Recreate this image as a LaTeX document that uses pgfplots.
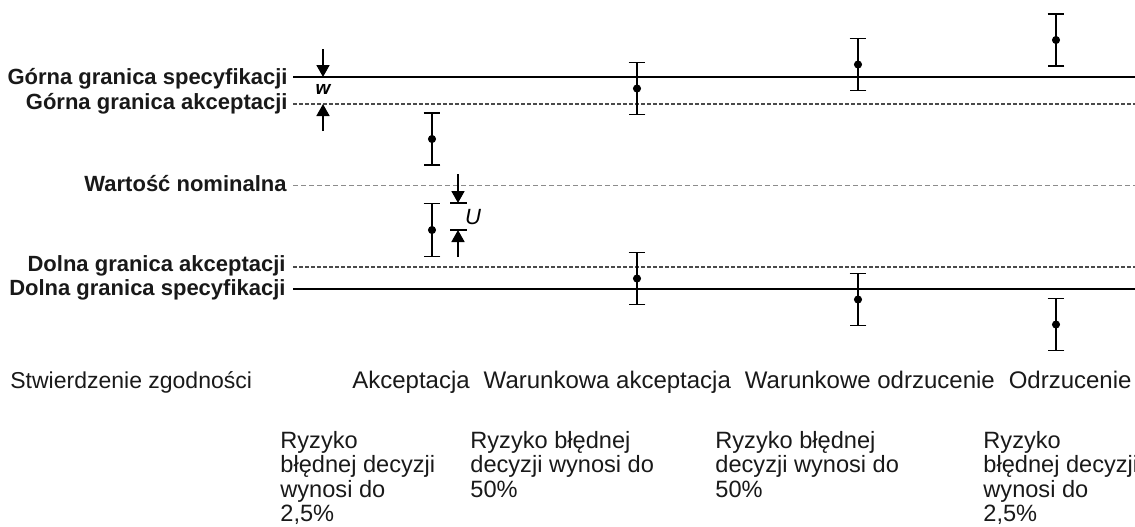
\documentclass[border=0pt]{standalone}
\usepackage{fontspec}
\setmainfont{Liberation Sans}
\usepackage{pgfplots}
\pgfplotsset{compat=1.18}
\usetikzlibrary{arrows.meta}
\definecolor{accgray}{HTML}{4A4A4A}
\definecolor{nomgray}{HTML}{8C8C8C}
\begin{document}
\begin{tikzpicture}
\begin{axis}[name=ax, width=567.5pt, height=263pt, scale only axis,
  xmin=0, xmax=1135, ymin=0, ymax=526, y dir=reverse,
  axis lines=none, ticks=none, clip=false]
% specification limits (solid)
\addplot[black, line width=1.2pt] coordinates {(293,77) (1140,77)};
\addplot[black, line width=1.2pt] coordinates {(293,289) (1140,289)};
% acceptance limits (dashed)
\addplot[accgray, line width=1pt, dash pattern=on 1.8pt off 1.2pt] coordinates {(293,103.5) (1140,103.5)};
\addplot[accgray, line width=1pt, dash pattern=on 1.8pt off 1.2pt] coordinates {(293,266.5) (1140,266.5)};
% nominal value
\addplot[nomgray, line width=0.7pt, dash pattern=on 2.4pt off 1.6pt] coordinates {(293,185.5) (1140,185.5)};
% measurement results with uncertainty
\addplot[only marks, mark=*, mark size=1.8pt, black,
  error bars/.cd, y dir=both, y explicit, error mark=|,
  error bar style={line width=0.9pt, black},
  error mark options={mark size=4.2pt, line width=0.9pt, black}]
  coordinates {
  (432,139) +- (0,26)
  (432,230) +- (0,26.5)
  (637,88.5) +- (0,26)
  (637,278.5) +- (0,26)
  (858,64.5) +- (0,26)
  (858,299.5) +- (0,26)
  (1056,40) +- (0,26)
  (1056,324.5) +- (0,26)
  };
% w arrows
\draw[black, line width=0.9pt, -{Triangle[length=6pt, width=6.5pt]}] (axis cs:323,49) -- (axis cs:323,77);
\draw[black, line width=0.9pt, -{Triangle[length=6pt, width=6.5pt]}] (axis cs:323,131) -- (axis cs:323,104);
\node[font=\fontsize{9.5}{10}\selectfont\bfseries\itshape, inner sep=0] at (axis cs:323,89) {w};
% U arrows
\draw[black, line width=0.9pt, -{Triangle[length=6pt, width=6.5pt]}] (axis cs:458,174) -- (axis cs:458,203);
\draw[black, line width=0.9pt] (axis cs:450,203) -- (axis cs:467,203);
\draw[black, line width=0.9pt, -{Triangle[length=6pt, width=6.5pt]}] (axis cs:458,257) -- (axis cs:458,230);
\draw[black, line width=0.9pt] (axis cs:450,230) -- (axis cs:467,230);
\node[font=\fontsize{11}{12}\selectfont\itshape, inner sep=0] at (axis cs:473,217) {U};
% left labels
\begin{scope}[every node/.style={anchor=base east, inner sep=0, font=\fontsize{11}{12}\selectfont\bfseries, text=black!90}]
\node at (axis cs:288,84) {Górna granica specyfikacji};
\node at (axis cs:288,109) {Górna granica akceptacji};
\node at (axis cs:287,191) {Wartość nominalna};
\node at (axis cs:286,271) {Dolna granica akceptacji};
\node at (axis cs:286,295) {Dolna granica specyfikacji};
\end{scope}
% decision row
\node[anchor=base west, inner sep=0, font=\fontsize{11.5}{12}\selectfont, text=black!90] at (axis cs:10,388) {Stwierdzenie zgodności};
\node[anchor=base east, inner sep=0, font=\fontsize{12}{13}\selectfont, text=black!90] at (axis cs:1132,388)
  {Akceptacja\hspace{7pt}Warunkowa akceptacja\hspace{7pt}Warunkowe odrzucenie\hspace{7pt}Odrzucenie};
% risk texts
\begin{scope}[every node/.style={anchor=base west, inner sep=0, font=\fontsize{11.8}{12.5}\selectfont, text=black!90}]
\node at (axis cs:280,448) {Ryzyko};
\node at (axis cs:280,472.5) {błędnej decyzji};
\node at (axis cs:280,497) {wynosi do};
\node at (axis cs:280,521.5) {2,5\%};
\node at (axis cs:470,448) {Ryzyko błędnej};
\node at (axis cs:470,472.5) {decyzji wynosi do};
\node at (axis cs:470,497) {50\%};
\node at (axis cs:715,448) {Ryzyko błędnej};
\node at (axis cs:715,472.5) {decyzji wynosi do};
\node at (axis cs:715,497) {50\%};
\node at (axis cs:983,448) {Ryzyko};
\node at (axis cs:983,472.5) {błędnej decyzji};
\node at (axis cs:983,497) {wynosi do};
\node at (axis cs:983,521.5) {2,5\%};
\end{scope}
\end{axis}
\pgfresetboundingbox
\path (ax.south west) rectangle (ax.north east);
\end{tikzpicture}
\end{document}
